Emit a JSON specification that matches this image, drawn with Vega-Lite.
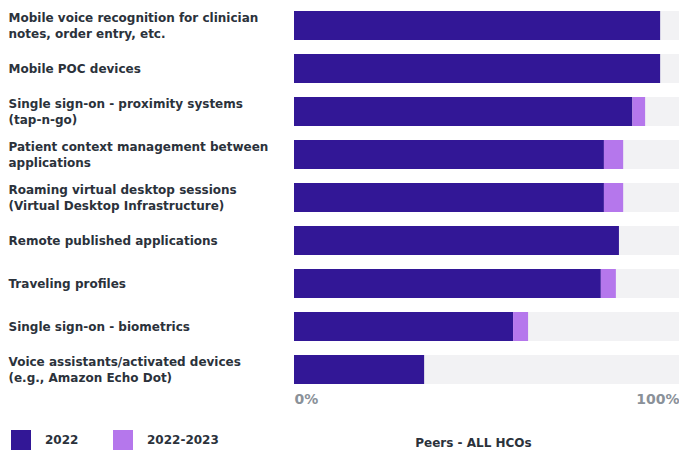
{
  "$schema": "https://vega.github.io/schema/vega-lite/v6.json",
  "width": 385,
  "height": 387,
  "autosize": {"type": "none"},
  "padding": {"left": 294, "top": 4, "right": 0, "bottom": 60},
  "background": "white",
  "config": {
    "view": {"stroke": null},
    "font": "DejaVu Sans"
  },
  "data": {
    "values": [
      {"item": "Mobile voice recognition for clinician|notes, order entry, etc.", "series": "2022", "value": 0.951},
      {"item": "Mobile POC devices", "series": "2022", "value": 0.951},
      {"item": "Single sign-on - proximity systems|(tap-n-go)", "series": "2022", "value": 0.879},
      {"item": "Single sign-on - proximity systems|(tap-n-go)", "series": "2022-2023", "value": 0.033},
      {"item": "Patient context management between|applications", "series": "2022", "value": 0.805},
      {"item": "Patient context management between|applications", "series": "2022-2023", "value": 0.05},
      {"item": "Roaming virtual desktop sessions|(Virtual Desktop Infrastructure)", "series": "2022", "value": 0.805},
      {"item": "Roaming virtual desktop sessions|(Virtual Desktop Infrastructure)", "series": "2022-2023", "value": 0.05},
      {"item": "Remote published applications", "series": "2022", "value": 0.844},
      {"item": "Traveling profiles", "series": "2022", "value": 0.797},
      {"item": "Traveling profiles", "series": "2022-2023", "value": 0.039},
      {"item": "Single sign-on - biometrics", "series": "2022", "value": 0.569},
      {"item": "Single sign-on - biometrics", "series": "2022-2023", "value": 0.039},
      {"item": "Voice assistants/activated devices|(e.g., Amazon Echo Dot)", "series": "2022", "value": 0.338}
    ]
  },
  "encoding": {
    "y": {
      "field": "item",
      "type": "nominal",
      "sort": null,
      "title": null,
      "scale": {"paddingInner": 0.326, "paddingOuter": 0.163},
      "axis": {
        "domain": false,
        "ticks": false,
        "labelAlign": "left",
        "labelBaseline": "middle",
        "labelPadding": 286,
        "labelLimit": 0,
        "labelFont": "DejaVu Sans",
        "labelFontSize": 12,
        "labelFontWeight": "bold",
        "labelColor": "#2b323b",
        "labelLineHeight": 16,
        "labelOffset": {"condition": {"test": "indexof(datum.value, '|') >= 0", "value": -8}, "value": 0},
        "labelExpr": "split(datum.label, '|')"
      }
    }
  },
  "layer": [
    {
      "transform": [{"filter": "datum.series == '2022'"}],
      "mark": {"type": "bar", "color": "#f2f2f4"},
      "encoding": {
        "x": {"datum": 1, "type": "quantitative"}
      }
    },
    {
      "mark": {"type": "bar"},
      "encoding": {
        "x": {
          "field": "value",
          "type": "quantitative",
          "stack": "zero",
          "title": "Peers - ALL HCOs",
          "scale": {"domain": [0, 1], "nice": false},
          "axis": {
            "values": [0, 1],
            "format": ".0%",
            "labelFlush": true,
            "domain": false,
            "ticks": false,
            "grid": false,
            "labelPadding": 1,
            "labelFont": "DejaVu Sans",
            "labelFontSize": 14,
            "labelFontWeight": "bold",
            "labelColor": "#8a9199",
            "titleFont": "DejaVu Sans",
            "titleFontSize": 12,
            "titleFontWeight": "bold",
            "titleColor": "#2b323b",
            "titleAnchor": "middle",
            "titleAlign": "center",
            "titleBaseline": "middle",
            "titleX": 179,
            "titleY": 51
          }
        },
        "color": {
          "field": "series",
          "type": "nominal",
          "scale": {"domain": ["2022", "2022-2023"], "range": ["#321796", "#b577ec"]},
          "legend": {
            "title": null,
            "orient": "none",
            "direction": "horizontal",
            "legendX": -283,
            "legendY": 426,
            "symbolType": "square",
            "symbolSize": 400,
            "symbolStrokeWidth": 0,
            "symbolOpacity": 1,
            "labelOffset": 14,
            "columnPadding": 34,
            "labelFont": "DejaVu Sans",
            "labelFontSize": 12,
            "labelFontWeight": "bold",
            "labelColor": "#2b323b"
          }
        }
      }
    }
  ]
}
